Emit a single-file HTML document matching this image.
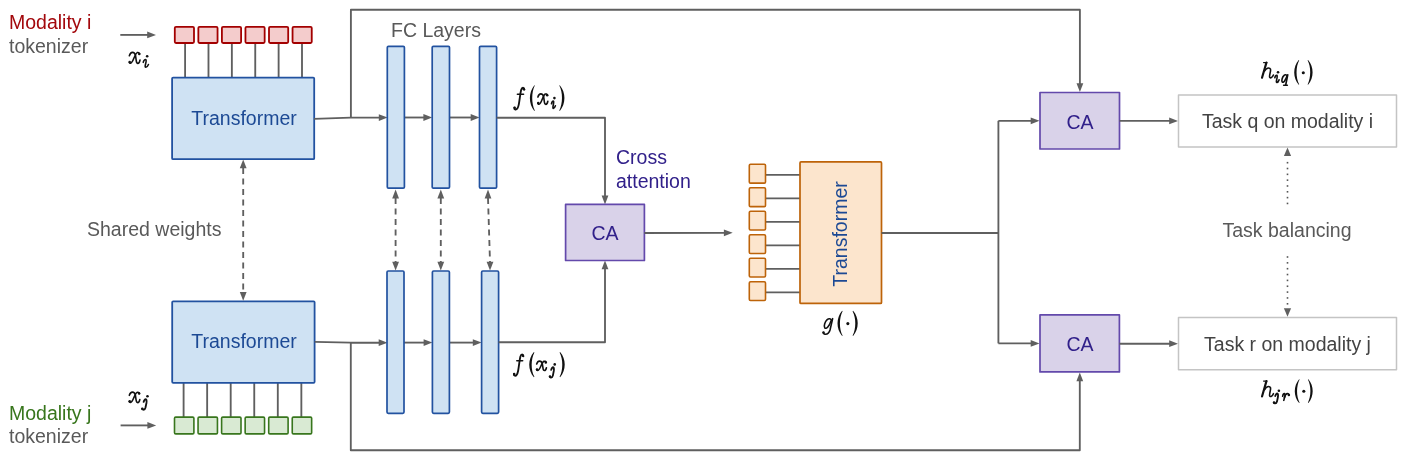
<!DOCTYPE html><html><head><meta charset="utf-8"><style>html,body{margin:0;padding:0;background:#fff;width:1404px;height:453px;overflow:hidden}svg{display:block;will-change:transform}text{font-family:"Liberation Sans",sans-serif}.m{font-family:"Liberation Serif",serif}</style></head><body>
<svg width="1404" height="453" viewBox="0 0 1404 453">
<rect width="1404" height="453" fill="#fff"/>
<text x="9" y="28.7" font-size="19.5" fill="#a3080c" text-anchor="start" >Modality i</text>
<text x="9" y="52.8" font-size="19.5" fill="#595959" text-anchor="start" >tokenizer</text>
<text x="9" y="420" font-size="19.5" fill="#38761d" text-anchor="start" >Modality j</text>
<text x="9" y="443.4" font-size="19.5" fill="#595959" text-anchor="start" >tokenizer</text>
<path d="M120.30 34.90 L148.00 34.90" fill="none" stroke="#5f5f5f" stroke-width="1.85" stroke-linejoin="round"/>
<path d="M156.00 34.90 L147.20 38.30 L147.20 31.50 Z" fill="#5f5f5f"/>
<path d="M120.60 425.40 L148.00 425.40" fill="none" stroke="#5f5f5f" stroke-width="1.85" stroke-linejoin="round"/>
<path d="M156.20 425.40 L147.40 428.80 L147.40 422.00 Z" fill="#5f5f5f"/>
<path d="M350.90 118.00 L350.90 9.70 L1079.90 9.70 L1079.90 84.00" fill="none" stroke="#5f5f5f" stroke-width="1.85" stroke-linejoin="round"/>
<path d="M1079.90 92.00 L1076.50 83.20 L1083.30 83.20 Z" fill="#5f5f5f"/>
<path d="M350.80 342.50 L350.80 450.20 L1079.80 450.20 L1079.80 380.00" fill="none" stroke="#5f5f5f" stroke-width="1.85" stroke-linejoin="round"/>
<path d="M1079.80 372.50 L1083.20 381.30 L1076.40 381.30 Z" fill="#5f5f5f"/>
<path d="M185.10 43.00 L185.10 78.00" fill="none" stroke="#5f5f5f" stroke-width="1.85" stroke-linejoin="round"/>
<path d="M208.48 43.00 L208.48 78.00" fill="none" stroke="#5f5f5f" stroke-width="1.85" stroke-linejoin="round"/>
<path d="M231.86 43.00 L231.86 78.00" fill="none" stroke="#5f5f5f" stroke-width="1.85" stroke-linejoin="round"/>
<path d="M255.24 43.00 L255.24 78.00" fill="none" stroke="#5f5f5f" stroke-width="1.85" stroke-linejoin="round"/>
<path d="M278.62 43.00 L278.62 78.00" fill="none" stroke="#5f5f5f" stroke-width="1.85" stroke-linejoin="round"/>
<path d="M302.00 43.00 L302.00 78.00" fill="none" stroke="#5f5f5f" stroke-width="1.85" stroke-linejoin="round"/>
<rect x="174.80" y="26.90" width="19.20" height="16.10" rx="1.2" fill="#f4cccc" stroke="#a30000" stroke-width="1.8" stroke-linejoin="round"/>
<rect x="198.35" y="26.90" width="19.20" height="16.10" rx="1.2" fill="#f4cccc" stroke="#a30000" stroke-width="1.8" stroke-linejoin="round"/>
<rect x="221.90" y="26.90" width="19.20" height="16.10" rx="1.2" fill="#f4cccc" stroke="#a30000" stroke-width="1.8" stroke-linejoin="round"/>
<rect x="245.45" y="26.90" width="19.20" height="16.10" rx="1.2" fill="#f4cccc" stroke="#a30000" stroke-width="1.8" stroke-linejoin="round"/>
<rect x="269.00" y="26.90" width="19.20" height="16.10" rx="1.2" fill="#f4cccc" stroke="#a30000" stroke-width="1.8" stroke-linejoin="round"/>
<rect x="292.55" y="26.90" width="19.20" height="16.10" rx="1.2" fill="#f4cccc" stroke="#a30000" stroke-width="1.8" stroke-linejoin="round"/>
<path d="M183.60 383.00 L183.60 417.00" fill="none" stroke="#5f5f5f" stroke-width="1.85" stroke-linejoin="round"/>
<path d="M207.15 383.00 L207.15 417.00" fill="none" stroke="#5f5f5f" stroke-width="1.85" stroke-linejoin="round"/>
<path d="M230.70 383.00 L230.70 417.00" fill="none" stroke="#5f5f5f" stroke-width="1.85" stroke-linejoin="round"/>
<path d="M254.25 383.00 L254.25 417.00" fill="none" stroke="#5f5f5f" stroke-width="1.85" stroke-linejoin="round"/>
<path d="M277.80 383.00 L277.80 417.00" fill="none" stroke="#5f5f5f" stroke-width="1.85" stroke-linejoin="round"/>
<path d="M301.35 383.00 L301.35 417.00" fill="none" stroke="#5f5f5f" stroke-width="1.85" stroke-linejoin="round"/>
<rect x="174.50" y="417.10" width="19.40" height="16.80" rx="1.2" fill="#d9ead3" stroke="#38761d" stroke-width="1.6" stroke-linejoin="round"/>
<rect x="198.05" y="417.10" width="19.40" height="16.80" rx="1.2" fill="#d9ead3" stroke="#38761d" stroke-width="1.6" stroke-linejoin="round"/>
<rect x="221.60" y="417.10" width="19.40" height="16.80" rx="1.2" fill="#d9ead3" stroke="#38761d" stroke-width="1.6" stroke-linejoin="round"/>
<rect x="245.15" y="417.10" width="19.40" height="16.80" rx="1.2" fill="#d9ead3" stroke="#38761d" stroke-width="1.6" stroke-linejoin="round"/>
<rect x="268.70" y="417.10" width="19.40" height="16.80" rx="1.2" fill="#d9ead3" stroke="#38761d" stroke-width="1.6" stroke-linejoin="round"/>
<rect x="292.25" y="417.10" width="19.40" height="16.80" rx="1.2" fill="#d9ead3" stroke="#38761d" stroke-width="1.6" stroke-linejoin="round"/>
<rect x="172.10" y="77.60" width="142.10" height="81.60" rx="1" fill="#cfe2f3" stroke="#2252a0" stroke-width="1.8" stroke-linejoin="round"/>
<text x="244" y="124.7" font-size="19.5" fill="#1c4994" text-anchor="middle" >Transformer</text>
<rect x="172.20" y="301.30" width="142.40" height="81.50" rx="1" fill="#cfe2f3" stroke="#2252a0" stroke-width="1.8" stroke-linejoin="round"/>
<text x="244" y="348.3" font-size="19.5" fill="#1c4994" text-anchor="middle" >Transformer</text>
<path d="M243.20 168.00 L243.20 292.00" fill="none" stroke="#5f5f5f" stroke-width="1.85" stroke-linejoin="round" stroke-dasharray="6 4.5"/>
<path d="M243.20 159.50 L246.60 168.30 L239.80 168.30 Z" fill="#5f5f5f"/>
<path d="M243.20 300.80 L239.80 292.00 L246.60 292.00 Z" fill="#5f5f5f"/>
<text x="87" y="236.3" font-size="19.5" fill="#595959" text-anchor="start" >Shared weights</text>
<path d="M314.00 118.80 L350.70 117.60 L380.00 117.60" fill="none" stroke="#5f5f5f" stroke-width="1.85" stroke-linejoin="round"/>
<path d="M387.60 117.60 L378.80 121.00 L378.80 114.20 Z" fill="#5f5f5f"/>
<path d="M404.40 117.50 L424.00 117.50" fill="none" stroke="#5f5f5f" stroke-width="1.85" stroke-linejoin="round"/>
<path d="M432.20 117.50 L423.40 120.90 L423.40 114.10 Z" fill="#5f5f5f"/>
<path d="M449.50 117.50 L472.00 117.50" fill="none" stroke="#5f5f5f" stroke-width="1.85" stroke-linejoin="round"/>
<path d="M479.50 117.50 L470.70 120.90 L470.70 114.10 Z" fill="#5f5f5f"/>
<path d="M314.70 341.90 L350.60 342.70 L380.00 342.70" fill="none" stroke="#5f5f5f" stroke-width="1.85" stroke-linejoin="round"/>
<path d="M387.50 342.70 L378.70 346.10 L378.70 339.30 Z" fill="#5f5f5f"/>
<path d="M404.00 342.60 L424.00 342.60" fill="none" stroke="#5f5f5f" stroke-width="1.85" stroke-linejoin="round"/>
<path d="M432.40 342.60 L423.60 346.00 L423.60 339.20 Z" fill="#5f5f5f"/>
<path d="M449.40 342.60 L474.00 342.60" fill="none" stroke="#5f5f5f" stroke-width="1.85" stroke-linejoin="round"/>
<path d="M481.60 342.60 L472.80 346.00 L472.80 339.20 Z" fill="#5f5f5f"/>
<rect x="387.30" y="46.30" width="17.10" height="141.90" rx="1.2" fill="#cfe2f3" stroke="#2252a0" stroke-width="1.7" stroke-linejoin="round"/>
<rect x="432.20" y="46.30" width="17.30" height="141.90" rx="1.2" fill="#cfe2f3" stroke="#2252a0" stroke-width="1.7" stroke-linejoin="round"/>
<rect x="479.50" y="46.30" width="17.10" height="141.90" rx="1.2" fill="#cfe2f3" stroke="#2252a0" stroke-width="1.7" stroke-linejoin="round"/>
<rect x="387.00" y="271.00" width="17.00" height="142.30" rx="1.2" fill="#cfe2f3" stroke="#2252a0" stroke-width="1.7" stroke-linejoin="round"/>
<rect x="432.40" y="271.00" width="17.00" height="142.30" rx="1.2" fill="#cfe2f3" stroke="#2252a0" stroke-width="1.7" stroke-linejoin="round"/>
<rect x="481.60" y="271.00" width="17.00" height="142.30" rx="1.2" fill="#cfe2f3" stroke="#2252a0" stroke-width="1.7" stroke-linejoin="round"/>
<text x="391" y="37" font-size="19.5" fill="#595959" text-anchor="start" >FC Layers</text>
<path d="M395.60 198.00 L395.60 262.00" fill="none" stroke="#5f5f5f" stroke-width="1.85" stroke-linejoin="round" stroke-dasharray="6 4.5"/>
<path d="M395.60 189.60 L399.00 198.40 L392.20 198.40 Z" fill="#5f5f5f"/>
<path d="M395.60 270.50 L392.20 261.70 L399.00 261.70 Z" fill="#5f5f5f"/>
<path d="M440.80 198.00 L440.80 262.00" fill="none" stroke="#5f5f5f" stroke-width="1.85" stroke-linejoin="round" stroke-dasharray="6 4.5"/>
<path d="M440.80 189.60 L444.20 198.40 L437.40 198.40 Z" fill="#5f5f5f"/>
<path d="M440.80 270.50 L437.40 261.70 L444.20 261.70 Z" fill="#5f5f5f"/>
<path d="M488.00 198.00 L490.00 262.00" fill="none" stroke="#5f5f5f" stroke-width="1.85" stroke-linejoin="round" stroke-dasharray="6 4.5"/>
<path d="M488.00 189.60 L491.40 198.40 L484.60 198.40 Z" fill="#5f5f5f"/>
<path d="M490.00 270.50 L486.60 261.70 L493.40 261.70 Z" fill="#5f5f5f"/>
<path d="M496.60 117.70 L605.00 117.70 L605.00 196.00" fill="none" stroke="#5f5f5f" stroke-width="1.85" stroke-linejoin="round"/>
<path d="M605.00 204.40 L601.60 195.60 L608.40 195.60 Z" fill="#5f5f5f"/>
<path d="M498.60 342.20 L605.00 342.20 L605.00 268.00" fill="none" stroke="#5f5f5f" stroke-width="1.85" stroke-linejoin="round"/>
<path d="M605.00 260.50 L608.40 269.30 L601.60 269.30 Z" fill="#5f5f5f"/>
<rect x="565.60" y="204.40" width="78.80" height="56.10" fill="#d9d2e9" stroke="#6349ab" stroke-width="1.7" stroke-linejoin="round"/>
<text x="605" y="240" font-size="19.5" fill="#31208a" text-anchor="middle" >CA</text>
<text x="616" y="164" font-size="19.5" fill="#31208a" text-anchor="start" >Cross</text>
<text x="616" y="188" font-size="19.5" fill="#31208a" text-anchor="start" >attention</text>
<path d="M644.40 233.00 L725.00 232.80" fill="none" stroke="#5f5f5f" stroke-width="1.85" stroke-linejoin="round"/>
<path d="M732.70 232.80 L723.90 236.20 L723.90 229.40 Z" fill="#5f5f5f"/>
<path d="M765.00 174.90 L800.30 174.90" fill="none" stroke="#5f5f5f" stroke-width="1.85" stroke-linejoin="round"/>
<path d="M765.00 198.38 L800.30 198.38" fill="none" stroke="#5f5f5f" stroke-width="1.85" stroke-linejoin="round"/>
<path d="M765.00 221.86 L800.30 221.86" fill="none" stroke="#5f5f5f" stroke-width="1.85" stroke-linejoin="round"/>
<path d="M765.00 245.34 L800.30 245.34" fill="none" stroke="#5f5f5f" stroke-width="1.85" stroke-linejoin="round"/>
<path d="M765.00 268.82 L800.30 268.82" fill="none" stroke="#5f5f5f" stroke-width="1.85" stroke-linejoin="round"/>
<path d="M765.00 292.30 L800.30 292.30" fill="none" stroke="#5f5f5f" stroke-width="1.85" stroke-linejoin="round"/>
<rect x="749.30" y="164.30" width="16.20" height="18.80" rx="1.2" fill="#fce5cd" stroke="#bd6309" stroke-width="1.6" stroke-linejoin="round"/>
<rect x="749.30" y="187.78" width="16.20" height="18.80" rx="1.2" fill="#fce5cd" stroke="#bd6309" stroke-width="1.6" stroke-linejoin="round"/>
<rect x="749.30" y="211.26" width="16.20" height="18.80" rx="1.2" fill="#fce5cd" stroke="#bd6309" stroke-width="1.6" stroke-linejoin="round"/>
<rect x="749.30" y="234.74" width="16.20" height="18.80" rx="1.2" fill="#fce5cd" stroke="#bd6309" stroke-width="1.6" stroke-linejoin="round"/>
<rect x="749.30" y="258.22" width="16.20" height="18.80" rx="1.2" fill="#fce5cd" stroke="#bd6309" stroke-width="1.6" stroke-linejoin="round"/>
<rect x="749.30" y="281.70" width="16.20" height="18.80" rx="1.2" fill="#fce5cd" stroke="#bd6309" stroke-width="1.6" stroke-linejoin="round"/>
<rect x="800.00" y="161.90" width="81.50" height="141.50" rx="1" fill="#fce5cd" stroke="#bd6309" stroke-width="1.7" stroke-linejoin="round"/>
<text x="0" y="0" font-size="19.5" fill="#1c4994" text-anchor="middle" transform="translate(847 234) rotate(-90)">Transformer</text>
<path d="M881.50 233.00 L998.40 233.00" fill="none" stroke="#5f5f5f" stroke-width="1.85" stroke-linejoin="round"/>
<path d="M998.40 120.80 L998.40 343.40" fill="none" stroke="#5f5f5f" stroke-width="1.85" stroke-linejoin="round"/>
<path d="M998.40 120.80 L1031.00 120.80" fill="none" stroke="#5f5f5f" stroke-width="1.85" stroke-linejoin="round"/>
<path d="M1039.50 120.80 L1030.70 124.20 L1030.70 117.40 Z" fill="#5f5f5f"/>
<path d="M998.40 343.40 L1031.00 343.40" fill="none" stroke="#5f5f5f" stroke-width="1.85" stroke-linejoin="round"/>
<path d="M1039.50 343.40 L1030.70 346.80 L1030.70 340.00 Z" fill="#5f5f5f"/>
<rect x="1040.00" y="92.50" width="79.50" height="56.50" fill="#d9d2e9" stroke="#6349ab" stroke-width="1.7" stroke-linejoin="round"/>
<text x="1080" y="128.6" font-size="19.5" fill="#31208a" text-anchor="middle" >CA</text>
<rect x="1040.00" y="314.90" width="79.40" height="57.00" fill="#d9d2e9" stroke="#6349ab" stroke-width="1.7" stroke-linejoin="round"/>
<text x="1080" y="351.3" font-size="19.5" fill="#31208a" text-anchor="middle" >CA</text>
<path d="M1119.50 120.90 L1170.00 120.90" fill="none" stroke="#5f5f5f" stroke-width="1.85" stroke-linejoin="round"/>
<path d="M1178.00 120.90 L1169.20 124.30 L1169.20 117.50 Z" fill="#5f5f5f"/>
<path d="M1119.40 343.70 L1170.00 343.70" fill="none" stroke="#5f5f5f" stroke-width="1.85" stroke-linejoin="round"/>
<path d="M1178.00 343.70 L1169.20 347.10 L1169.20 340.30 Z" fill="#5f5f5f"/>
<rect x="1178.50" y="94.90" width="218.00" height="52.20" fill="#ffffff" stroke="#c4c4c4" stroke-width="1.5" stroke-linejoin="round"/>
<text x="1287.5" y="128.2" font-size="19.5" fill="#434343" text-anchor="middle" >Task q on modality i</text>
<rect x="1178.50" y="317.50" width="218.00" height="52.20" fill="#ffffff" stroke="#c4c4c4" stroke-width="1.5" stroke-linejoin="round"/>
<text x="1287.5" y="351" font-size="19.5" fill="#434343" text-anchor="middle" >Task r on modality j</text>
<rect x="1286.7" y="161.90" width="1.6" height="1.6" fill="#555"/>
<rect x="1286.7" y="167.72" width="1.6" height="1.6" fill="#555"/>
<rect x="1286.7" y="173.54" width="1.6" height="1.6" fill="#555"/>
<rect x="1286.7" y="179.36" width="1.6" height="1.6" fill="#555"/>
<rect x="1286.7" y="185.18" width="1.6" height="1.6" fill="#555"/>
<rect x="1286.7" y="191.00" width="1.6" height="1.6" fill="#555"/>
<rect x="1286.7" y="196.82" width="1.6" height="1.6" fill="#555"/>
<rect x="1286.7" y="202.64" width="1.6" height="1.6" fill="#555"/>
<path d="M1287.50 147.50 L1291.10 156.00 L1283.90 156.00 Z" fill="#5f5f5f"/>
<rect x="1286.7" y="256.20" width="1.6" height="1.6" fill="#555"/>
<rect x="1286.7" y="262.05" width="1.6" height="1.6" fill="#555"/>
<rect x="1286.7" y="267.90" width="1.6" height="1.6" fill="#555"/>
<rect x="1286.7" y="273.75" width="1.6" height="1.6" fill="#555"/>
<rect x="1286.7" y="279.60" width="1.6" height="1.6" fill="#555"/>
<rect x="1286.7" y="285.45" width="1.6" height="1.6" fill="#555"/>
<rect x="1286.7" y="291.30" width="1.6" height="1.6" fill="#555"/>
<rect x="1286.7" y="297.15" width="1.6" height="1.6" fill="#555"/>
<rect x="1286.7" y="303.00" width="1.6" height="1.6" fill="#555"/>
<path d="M1287.50 316.80 L1283.90 308.30 L1291.10 308.30 Z" fill="#5f5f5f"/>
<text x="1287" y="237.4" font-size="19.5" fill="#595959" text-anchor="middle" >Task balancing</text>
<path d="M129.34 55.72 C130.05 53.42 131.00 52.38 132.42 52.38 C134.31 52.38 135.14 53.76 135.50 55.49 L136.21 60.34 C136.44 62.64 136.92 63.34 137.86 63.34 C138.81 63.34 139.64 61.84 139.99 60.11" fill="none" stroke="#111" stroke-width="1.60" stroke-linecap="round" stroke-linejoin="round"/>
<path d="M139.64 53.76 C139.28 52.61 138.10 52.26 137.15 52.61 C135.97 53.19 135.14 55.49 133.96 58.03 C132.78 61.03 131.95 62.99 130.53 63.22 C129.82 63.34 129.34 62.76 129.34 62.18" fill="none" stroke="#111" stroke-width="1.60" stroke-linecap="round" stroke-linejoin="round"/>
<circle cx="139.28" cy="53.88" r="1.25" fill="#111"/>
<circle cx="129.70" cy="61.95" r="1.25" fill="#111"/>
<path d="M143.26 62.31 C143.88 60.15 145.00 59.30 145.85 59.67 C146.53 60.15 146.13 61.95 145.57 64.00 C145.00 66.16 145.00 67.25 145.85 67.25 C146.86 67.25 147.82 65.92 148.44 64.48" fill="none" stroke="#111" stroke-width="1.60" stroke-linecap="round" stroke-linejoin="round"/>
<circle cx="147.15" cy="56.30" r="1.3" fill="#111"/>
<path d="M524.34 89.61 C524.11 87.30 522.04 86.83 521.11 90.07 C520.19 93.77 519.73 99.56 518.81 104.41 C517.89 108.81 516.62 109.74 515.35 109.50 C514.43 109.27 514.19 108.35 514.31 107.65" fill="none" stroke="#111" stroke-width="1.84" stroke-linecap="round" stroke-linejoin="round"/>
<path d="M517.42 94.24 L523.54 94.24" fill="none" stroke="#111" stroke-width="1.60" stroke-linecap="round" stroke-linejoin="round"/>
<circle cx="523.88" cy="89.15" r="1.25" fill="#111"/>
<circle cx="514.66" cy="107.65" r="1.25" fill="#111"/>
<path d="M534.33 85.20 C528.43 92.40 528.43 103.70 534.33 110.90 L534.80 110.51 C531.38 103.70 531.38 92.40 534.80 85.59 Z" fill="#111"/>
<path d="M537.90 97.06 C538.56 94.86 539.44 93.86 540.76 93.86 C542.53 93.86 543.30 95.19 543.63 96.84 L544.29 101.48 C544.52 103.68 544.96 104.35 545.84 104.35 C546.72 104.35 547.49 102.91 547.83 101.26" fill="none" stroke="#111" stroke-width="1.60" stroke-linecap="round" stroke-linejoin="round"/>
<path d="M547.49 95.19 C547.16 94.08 546.06 93.75 545.18 94.08 C544.07 94.64 543.30 96.84 542.20 99.27 C541.10 102.14 540.32 104.02 539.00 104.24 C538.34 104.35 537.90 103.79 537.90 103.24" fill="none" stroke="#111" stroke-width="1.60" stroke-linecap="round" stroke-linejoin="round"/>
<circle cx="547.16" cy="95.30" r="1.25" fill="#111"/>
<circle cx="538.23" cy="103.02" r="1.25" fill="#111"/>
<path d="M551.50 103.71 C551.97 101.67 552.81 100.87 553.45 101.21 C553.96 101.67 553.66 103.37 553.24 105.29 C552.81 107.33 552.81 108.35 553.45 108.35 C554.21 108.35 554.93 107.11 555.40 105.75" fill="none" stroke="#111" stroke-width="1.60" stroke-linecap="round" stroke-linejoin="round"/>
<circle cx="554.42" cy="98.10" r="1.3" fill="#111"/>
<path d="M559.80 85.20 C566.00 92.40 566.00 103.70 559.80 110.90 L559.30 110.51 C562.90 103.70 562.90 92.40 559.30 85.59 Z" fill="#111"/>
<path d="M523.39 356.25 C523.17 353.99 521.21 353.53 520.33 356.70 C519.46 360.32 519.02 365.98 518.14 370.73 C517.27 375.03 516.07 375.94 514.86 375.71 C513.99 375.49 513.77 374.58 513.88 373.90" fill="none" stroke="#111" stroke-width="1.84" stroke-linecap="round" stroke-linejoin="round"/>
<path d="M516.83 360.78 L522.63 360.78" fill="none" stroke="#111" stroke-width="1.60" stroke-linecap="round" stroke-linejoin="round"/>
<circle cx="522.95" cy="355.80" r="1.25" fill="#111"/>
<circle cx="514.21" cy="373.90" r="1.25" fill="#111"/>
<path d="M533.90 352.00 C527.70 359.06 527.70 370.14 533.90 377.20 L534.40 376.82 C530.80 370.14 530.80 359.06 534.40 352.38 Z" fill="#111"/>
<path d="M536.68 364.01 C537.33 362.03 538.20 361.13 539.50 361.13 C541.23 361.13 541.99 362.32 542.32 363.81 L542.97 367.99 C543.18 369.97 543.62 370.57 544.48 370.57 C545.35 370.57 546.11 369.28 546.43 367.79" fill="none" stroke="#111" stroke-width="1.60" stroke-linecap="round" stroke-linejoin="round"/>
<path d="M546.11 362.32 C545.78 361.33 544.70 361.03 543.83 361.33 C542.75 361.83 541.99 363.81 540.91 366.00 C539.82 368.58 539.07 370.27 537.77 370.47 C537.12 370.57 536.68 370.07 536.68 369.57" fill="none" stroke="#111" stroke-width="1.60" stroke-linecap="round" stroke-linejoin="round"/>
<circle cx="545.78" cy="362.42" r="1.25" fill="#111"/>
<circle cx="537.01" cy="369.38" r="1.25" fill="#111"/>
<path d="M551.18 369.88 C551.68 368.02 552.55 367.02 553.30 367.30 C554.05 367.73 554.05 369.17 553.80 370.89 L552.86 375.62 C552.43 377.34 551.62 377.62 550.80 377.48 C550.18 377.34 549.81 377.05 549.87 376.62" fill="none" stroke="#111" stroke-width="1.84" stroke-linecap="round" stroke-linejoin="round"/>
<circle cx="549.99" cy="376.48" r="1.25" fill="#111"/>
<circle cx="554.73" cy="364.40" r="1.3" fill="#111"/>
<path d="M560.10 352.00 C566.30 359.06 566.30 370.14 560.10 377.20 L559.60 376.82 C563.20 370.14 563.20 359.06 559.60 352.38 Z" fill="#111"/>
<path d="M831.70 320.61 C830.86 318.66 828.96 318.17 827.17 319.63 C825.07 321.58 823.49 325.64 824.75 327.75 C826.12 329.70 829.28 326.45 831.39 319.96" fill="none" stroke="#111" stroke-width="1.60" stroke-linecap="round" stroke-linejoin="round"/>
<path d="M832.65 318.66 L830.02 330.02 C828.96 333.75 827.17 334.40 825.07 334.24 C824.01 334.08 823.28 333.43 823.49 332.62" fill="none" stroke="#111" stroke-width="1.60" stroke-linecap="round" stroke-linejoin="round"/>
<circle cx="823.49" cy="332.46" r="1.25" fill="#111"/>
<path d="M842.11 310.80 C836.01 317.83 836.01 328.87 842.11 335.90 L842.60 335.52 C839.06 328.87 839.06 317.83 842.60 311.18 Z" fill="#111"/>
<circle cx="847.85" cy="323.60" r="1.55" fill="#111"/>
<path d="M853.10 310.80 C859.30 317.83 859.30 328.87 853.10 335.90 L852.60 335.52 C856.20 328.87 856.20 317.83 852.60 311.18 Z" fill="#111"/>
<path d="M1263.61 62.62 L1266.92 62.62" fill="none" stroke="#111" stroke-width="1.28" stroke-linecap="round" stroke-linejoin="round"/>
<path d="M1266.43 62.62 L1262.02 77.78" fill="none" stroke="#111" stroke-width="2.16" stroke-linecap="round" stroke-linejoin="round"/>
<path d="M1264.47 71.17 C1265.69 68.91 1267.16 67.94 1268.63 67.94 C1270.59 67.94 1270.83 69.55 1270.34 71.81 C1269.85 74.07 1269.36 76.01 1269.61 76.98 C1269.85 77.94 1270.59 77.94 1271.08 77.78 C1272.05 77.46 1272.91 76.33 1273.40 75.04" fill="none" stroke="#111" stroke-width="1.60" stroke-linecap="round" stroke-linejoin="round"/>
<path d="M1274.82 77.81 C1275.33 75.77 1276.25 74.97 1276.95 75.31 C1277.51 75.77 1277.18 77.47 1276.72 79.39 C1276.25 81.43 1276.25 82.45 1276.95 82.45 C1277.78 82.45 1278.57 81.21 1279.08 79.85" fill="none" stroke="#111" stroke-width="1.60" stroke-linecap="round" stroke-linejoin="round"/>
<circle cx="1278.02" cy="72.20" r="1.3" fill="#111"/>
<path d="M1287.13 75.86 C1286.43 74.53 1285.05 74.31 1283.87 75.64 C1282.27 77.29 1281.23 80.60 1282.27 82.04 C1283.31 83.14 1285.39 80.60 1287.13 75.86" fill="none" stroke="#111" stroke-width="1.60" stroke-linecap="round" stroke-linejoin="round"/>
<path d="M1287.75 74.75 L1285.67 85.24" fill="none" stroke="#111" stroke-width="1.60" stroke-linecap="round" stroke-linejoin="round"/>
<path d="M1283.66 85.24 L1287.33 85.24" fill="none" stroke="#111" stroke-width="1.60" stroke-linecap="round" stroke-linejoin="round"/>
<path d="M1298.72 60.00 C1292.72 66.94 1292.72 77.86 1298.72 84.80 L1299.20 84.43 C1295.72 77.86 1295.72 66.94 1299.20 60.37 Z" fill="#111"/>
<circle cx="1303.30" cy="72.75" r="1.55" fill="#111"/>
<path d="M1308.08 60.00 C1314.08 66.94 1314.08 77.86 1308.08 84.80 L1307.60 84.43 C1311.08 77.86 1311.08 66.94 1307.60 60.37 Z" fill="#111"/>
<path d="M1263.61 381.12 L1266.92 381.12" fill="none" stroke="#111" stroke-width="1.28" stroke-linecap="round" stroke-linejoin="round"/>
<path d="M1266.43 381.12 L1262.02 396.48" fill="none" stroke="#111" stroke-width="2.16" stroke-linecap="round" stroke-linejoin="round"/>
<path d="M1264.47 389.78 C1265.69 387.49 1267.16 386.51 1268.63 386.51 C1270.59 386.51 1270.83 388.15 1270.34 390.43 C1269.85 392.72 1269.36 394.68 1269.61 395.66 C1269.85 396.64 1270.59 396.64 1271.08 396.48 C1272.05 396.15 1272.91 395.01 1273.40 393.70" fill="none" stroke="#111" stroke-width="1.60" stroke-linecap="round" stroke-linejoin="round"/>
<path d="M1275.23 396.06 C1275.75 394.26 1276.65 393.29 1277.42 393.57 C1278.19 393.98 1278.19 395.37 1277.94 397.03 L1276.97 401.59 C1276.52 403.25 1275.69 403.53 1274.85 403.39 C1274.21 403.25 1273.82 402.97 1273.88 402.56" fill="none" stroke="#111" stroke-width="1.84" stroke-linecap="round" stroke-linejoin="round"/>
<circle cx="1274.01" cy="402.42" r="1.25" fill="#111"/>
<circle cx="1278.90" cy="390.80" r="1.3" fill="#111"/>
<path d="M1282.65 396.29 C1283.00 394.50 1283.72 393.58 1284.43 393.65 C1285.29 393.79 1285.14 395.22 1284.79 396.64 L1283.79 400.35" fill="none" stroke="#111" stroke-width="1.60" stroke-linecap="round" stroke-linejoin="round"/>
<path d="M1284.36 397.71 C1285.14 395.22 1286.14 393.65 1287.43 393.65 C1288.50 393.65 1289.00 394.29 1288.71 395.00" fill="none" stroke="#111" stroke-width="1.60" stroke-linecap="round" stroke-linejoin="round"/>
<circle cx="1288.85" cy="395.00" r="1.25" fill="#111"/>
<path d="M1299.14 379.20 C1293.34 385.86 1293.34 396.34 1299.14 403.00 L1299.60 402.64 C1296.24 396.34 1296.24 385.86 1299.60 379.56 Z" fill="#111"/>
<circle cx="1303.80" cy="391.25" r="1.55" fill="#111"/>
<path d="M1308.36 379.20 C1314.16 385.86 1314.16 396.34 1308.36 403.00 L1307.90 402.64 C1311.26 396.34 1311.26 385.86 1307.90 379.56 Z" fill="#111"/>
<path d="M129.33 395.36 C130.03 393.16 130.96 392.16 132.36 392.16 C134.22 392.16 135.03 393.49 135.38 395.14 L136.08 399.78 C136.31 401.98 136.78 402.65 137.71 402.65 C138.64 402.65 139.45 401.21 139.80 399.56" fill="none" stroke="#111" stroke-width="1.60" stroke-linecap="round" stroke-linejoin="round"/>
<path d="M139.45 393.49 C139.10 392.39 137.94 392.05 137.01 392.39 C135.85 392.94 135.03 395.14 133.87 397.57 C132.71 400.44 131.89 402.31 130.49 402.54 C129.80 402.65 129.33 402.09 129.33 401.54" fill="none" stroke="#111" stroke-width="1.60" stroke-linecap="round" stroke-linejoin="round"/>
<circle cx="139.10" cy="393.60" r="1.25" fill="#111"/>
<circle cx="129.68" cy="401.32" r="1.25" fill="#111"/>
<path d="M143.62 401.92 C144.16 400.02 145.10 398.99 145.91 399.28 C146.72 399.72 146.72 401.19 146.45 402.94 L145.44 407.77 C144.97 409.53 144.09 409.82 143.21 409.67 C142.54 409.53 142.14 409.23 142.20 408.80" fill="none" stroke="#111" stroke-width="1.84" stroke-linecap="round" stroke-linejoin="round"/>
<circle cx="142.34" cy="408.65" r="1.25" fill="#111"/>
<circle cx="147.46" cy="396.30" r="1.3" fill="#111"/>
</svg></body></html>
